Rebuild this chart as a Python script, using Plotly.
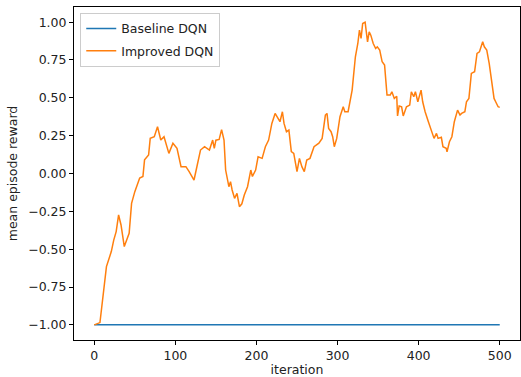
import plotly.graph_objects as go

baseline_x = [0, 500]
baseline_y = [-1.0, -1.0]

improved_x = [0, 4, 7, 15, 18, 21, 24, 27, 30, 33, 37, 40, 43, 46, 50, 56, 60, 62, 67, 69, 74, 78, 82, 86,
              92, 97, 102, 107, 113, 117, 123, 127, 131, 136, 142, 146, 148, 150, 154, 157, 160, 162,
              164, 166, 168, 170, 173, 176, 179, 182, 185, 189, 193, 195, 199, 202, 207, 211, 215, 219,
              223, 226, 229, 232, 234, 237, 240, 243, 246, 250, 253, 256, 259, 262, 266, 271, 277, 281,
              285, 287, 289, 292, 294, 296, 299, 303, 307, 309, 313, 318, 322, 325, 327, 329, 331, 334,
              337, 339, 341, 344, 347, 349, 352, 355, 358, 361, 365, 367, 370, 373, 374, 376, 379, 381,
              385, 389, 391, 394, 396, 399, 403, 405, 408, 412, 416, 419, 422, 424, 428, 430, 434, 435,
              438, 441, 444, 448, 451, 453, 457, 459, 462, 465, 469, 472, 475, 477, 479, 481, 484, 487,
              490, 493, 495, 498, 500]
improved_y = [-1.0, -0.99, -0.985, -0.615, -0.57, -0.516, -0.44, -0.384, -0.274, -0.34, -0.483, -0.44,
              -0.395, -0.197, -0.12, -0.03, -0.02, 0.09, 0.122, 0.232, 0.243, 0.309, 0.221, 0.243,
              0.133, 0.2, 0.166, 0.045, 0.045, 0.012, -0.043, 0.056, 0.155, 0.177, 0.155, 0.221,
              0.166, 0.22, 0.225, 0.29, 0.221, 0.023, -0.043, -0.087, -0.054, -0.109, -0.164, -0.131,
              -0.219, -0.2, -0.142, -0.087, 0.023, -0.02, 0.023, 0.11, 0.1, 0.177, 0.221, 0.331,
              0.397, 0.364, 0.342, 0.408, 0.331, 0.276, 0.287, 0.144, 0.133, 0.012, 0.1, 0.045,
              0.012, 0.089, 0.1, 0.177, 0.2, 0.232, 0.386, 0.397, 0.298, 0.276, 0.243, 0.177, 0.232,
              0.375, 0.441, 0.408, 0.408, 0.551, 0.771, 0.859, 0.947, 0.892, 0.991, 1.0, 0.87, 0.936,
              0.914, 0.859, 0.826, 0.837, 0.815, 0.738, 0.716, 0.518, 0.518, 0.54, 0.496, 0.51, 0.38,
              0.446, 0.441, 0.38, 0.441, 0.452, 0.54, 0.507, 0.54, 0.474, 0.551, 0.474, 0.408, 0.342,
              0.276, 0.232, 0.265, 0.232, 0.239, 0.177, 0.166, 0.144, 0.21, 0.243, 0.342, 0.419,
              0.386, 0.397, 0.408, 0.474, 0.496, 0.661, 0.672, 0.793, 0.804, 0.837, 0.87, 0.837,
              0.815, 0.727, 0.617, 0.496, 0.474, 0.441, 0.437]

x_ticks = [0, 100, 200, 300, 400, 500]
y_ticks = [-1.0, -0.75, -0.5, -0.25, 0.0, 0.25, 0.5, 0.75, 1.0]

fig = go.Figure()
fig.add_trace(go.Scatter(x=baseline_x, y=baseline_y, mode="lines", name="Baseline DQN",
                         legendgroup="a", line=dict(color="#1f77b4", width=1.5)))
fig.add_trace(go.Scatter(x=improved_x, y=improved_y, mode="lines", name="Improved DQN",
                         legendgroup="b", line=dict(color="#ff7f0e", width=1.5)))

axis_common = dict(showgrid=False, zeroline=False, showline=True, linecolor="black", linewidth=1,
                   mirror=True, ticks="outside", ticklen=4, tickwidth=1, tickcolor="black",
                   tickfont=dict(size=12.5, color="#222"))

fig.update_layout(
    width=521, height=377,
    margin=dict(l=74, r=1, t=7, b=37),
    paper_bgcolor="white", plot_bgcolor="white",
    font=dict(family="DejaVu Sans", size=12.5, color="#222"),
    xaxis=dict(range=[-25, 525], tickvals=x_ticks, ticktext=[str(v) for v in x_ticks],
               title=dict(text="iteration", standoff=5, font=dict(size=12.5)), automargin=False,
               **axis_common),
    yaxis=dict(range=[-1.1, 1.1], tickvals=y_ticks, tickformat=".2f",
               title=dict(text="mean episode reward", standoff=7, font=dict(size=12.5)), automargin=False,
               **axis_common),
    legend=dict(x=0.014, y=0.982, xanchor="left", yanchor="top", bgcolor="rgba(255,255,255,0.8)",
                bordercolor="#cccccc", borderwidth=1, font=dict(size=12.5), itemwidth=30,
                tracegroupgap=3),
    showlegend=True,
)

fig.write_html("out.html")
